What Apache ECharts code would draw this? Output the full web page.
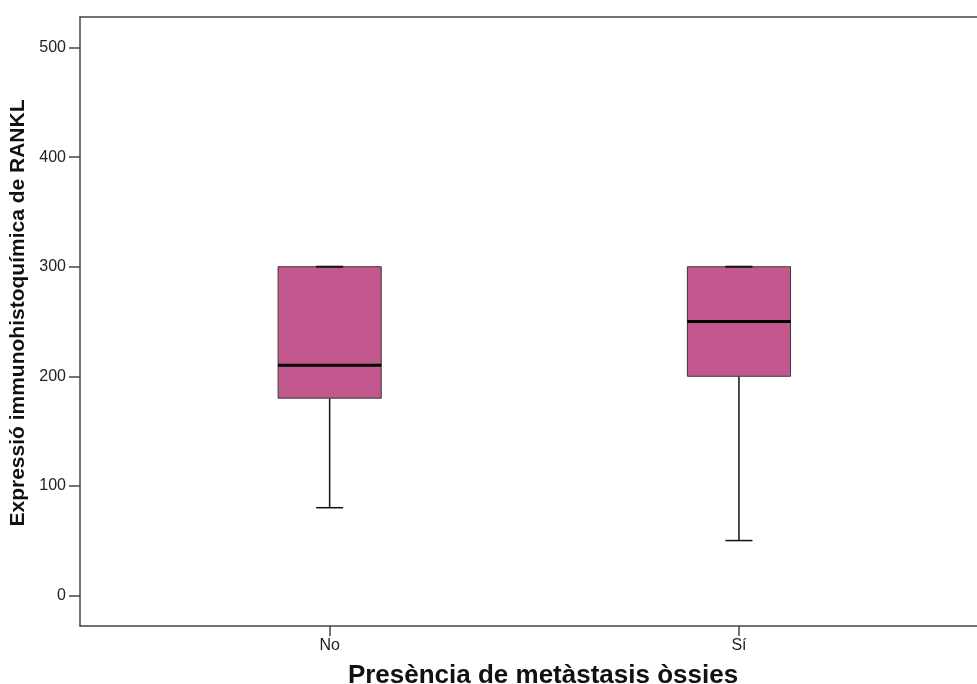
<!DOCTYPE html>
<html>
<head>
<meta charset="utf-8">
<script src="https://cdn.jsdelivr.net/npm/echarts@6/dist/echarts.min.js"></script>
<style>
html,body{margin:0;padding:0;background:#fff;}
#chart{width:977px;height:684px;}
</style>
</head>
<body>
<div id="chart"></div>
<script>
// Data
var categories = ['No', 'Sí'];
var whiskerLow = [80, 50];
var q1 = [180, 200];
var median = [210, 250];
var q3 = [300, 300];
var whiskerHigh = [300, 300];
var yTicks = [0, 100, 200, 300, 400, 500];
var xTitle = 'Presència de metàstasis òssies';
var yTitle = 'Expressió immunohistoquímica de RANKL';

var boxData = categories.map(function (c, i) {
  return [i, whiskerLow[i], q1[i], median[i], q3[i], whiskerHigh[i]];
});

var yMin = -28, yMax = 528;
var font = '"Liberation Sans", Arial, sans-serif';
var axisColor = '#444';

var chart = echarts.init(document.getElementById('chart'));
chart.setOption({
  animation: false,
  backgroundColor: '#fff',
  grid: [
    {left: 80, right: 0, top: 17, bottom: 58, outerBoundsMode: 'none', containLabel: false},
    {left: 125, right: 33.4, top: 17, bottom: 58, outerBoundsMode: 'none', containLabel: false}
  ],
  xAxis: [
    {
      type: 'category', gridIndex: 0, data: [''], position: 'bottom',
      axisLine: {show: true, onZero: false, lineStyle: {color: axisColor, width: 1.5}},
      axisTick: {show: false}, axisLabel: {show: false}, splitLine: {show: false},
      name: xTitle, nameLocation: 'middle', nameGap: 37,
      nameTextStyle: {fontFamily: font, fontSize: 26, fontWeight: 'bold', color: '#111', padding: [0, 0, 0, 29]}
    },
    {
      type: 'category', gridIndex: 1, data: categories, position: 'bottom',
      axisLine: {show: false, onZero: false},
      axisTick: {show: true, alignWithLabel: true, length: 10, lineStyle: {color: axisColor, width: 1.5}},
      axisLabel: {fontFamily: font, fontSize: 16, color: '#222', margin: 12},
      splitLine: {show: false}
    },
    {
      type: 'category', gridIndex: 0, data: [''], position: 'top',
      axisLine: {show: true, onZero: false, lineStyle: {color: axisColor, width: 1.5}},
      axisTick: {show: false}, axisLabel: {show: false}, splitLine: {show: false}
    }
  ],
  yAxis: [
    {
      type: 'value', gridIndex: 0, min: yMin, max: yMax,
      axisLine: {show: true, onZero: false, lineStyle: {color: axisColor, width: 1.5}},
      axisTick: {show: true, length: 11, customValues: yTicks, lineStyle: {color: axisColor, width: 1.5}},
      axisLabel: {customValues: yTicks, fontFamily: font, fontSize: 16, color: '#222', margin: 14},
      splitLine: {show: false},
      name: yTitle, nameLocation: 'middle', nameRotate: 90, nameGap: 47,
      nameTextStyle: {fontFamily: font, fontSize: 21, fontWeight: 'bold', color: '#111', padding: [0, 0, 0, 17]}
    },
    {
      type: 'value', gridIndex: 1, min: yMin, max: yMax, show: false,
      splitLine: {show: false}
    }
  ],
  series: [{
    type: 'custom',
    xAxisIndex: 1, yAxisIndex: 1,
    data: boxData,
    encode: {x: 0, y: [1, 2, 3, 4, 5]},
    renderItem: function (params, api) {
      var x = api.value(0);
      var band = api.size([1, 0])[0];
      var bw = band * 0.252;
      var cw = band * 0.066;
      var pLow = api.coord([x, api.value(1)]);
      var pQ1 = api.coord([x, api.value(2)]);
      var pMed = api.coord([x, api.value(3)]);
      var pQ3 = api.coord([x, api.value(4)]);
      var pHigh = api.coord([x, api.value(5)]);
      var cx = pQ1[0];
      var lineStyle = {stroke: '#111', lineWidth: 1.5};
      return {
        type: 'group',
        children: [
          {type: 'line', shape: {x1: cx, y1: pLow[1], x2: cx, y2: pQ1[1]}, style: lineStyle},
          {type: 'line', shape: {x1: cx, y1: pQ3[1], x2: cx, y2: pHigh[1]}, style: lineStyle},
          {type: 'rect', shape: {x: cx - bw / 2, y: pQ3[1], width: bw, height: pQ1[1] - pQ3[1]},
            style: {fill: '#C2588E', stroke: '#3a3a3a', lineWidth: 1}},
          {type: 'line', shape: {x1: cx - cw / 2, y1: pLow[1], x2: cx + cw / 2, y2: pLow[1]}, style: lineStyle},
          {type: 'line', shape: {x1: cx - cw / 2, y1: pHigh[1], x2: cx + cw / 2, y2: pHigh[1]}, style: {stroke: '#111', lineWidth: 2}},
          {type: 'line', shape: {x1: cx - bw / 2, y1: pMed[1], x2: cx + bw / 2, y2: pMed[1]}, style: {stroke: '#000', lineWidth: 3}}
        ]
      };
    }
  }]
});
</script>
</body>
</html>
